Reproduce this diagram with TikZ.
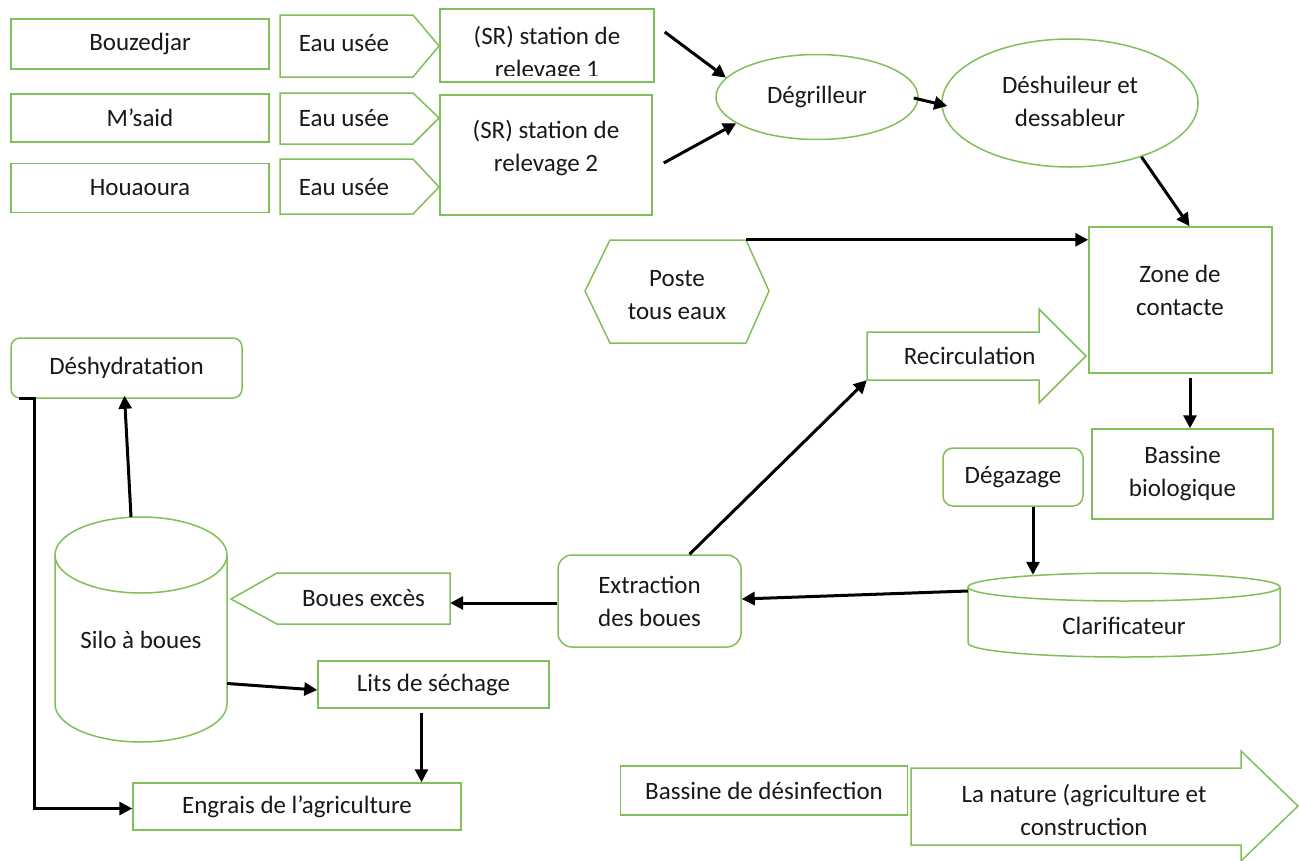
\documentclass[tikz,border=0pt]{standalone}
\usepackage{fontspec}
\setmainfont{Carlito}
\usetikzlibrary{arrows.meta,shapes.geometric}
\definecolor{boxgreen}{RGB}{128,192,88}
\definecolor{txt}{RGB}{25,25,25}
\begin{document}
\begin{tikzpicture}[x=1pt,y=-1pt,
  font=\fontsize{25}{33}\selectfont, text=txt,
  box/.style={draw=boxgreen, line width=1.5pt, rectangle, inner sep=0pt, align=center},
  rbox/.style={box, rounded corners=10pt},
  oval/.style={draw=boxgreen, line width=1.5pt, ellipse, inner sep=0pt, align=center},
  shp/.style={draw=boxgreen, line width=1.5pt, line join=miter},
  lbl/.style={inner sep=0pt, align=center},
  flow/.style={draw=black, line width=3pt, -{Triangle[length=13pt,width=13pt]}},
]
\useasboundingbox[fill=white] (0,0) rectangle (1299,860);

% ---- sources
\node[box, minimum width=258pt, minimum height=50pt] (bou) at (140,44) {Bouzedjar};
\node[box, minimum width=258pt, minimum height=48pt] (msa) at (140,118) {M’said};
\node[box, minimum width=258pt, minimum height=49pt] (hou) at (140,188) {Houaoura};

% ---- Eau usee pentagons
\draw[shp] (280,15) -- (413,15) -- (439,46) -- (413,77) -- (280,77) -- cycle;
\node[lbl] (eau1) at (344,43) {Eau usée};
\draw[shp] (280,93) -- (413,93) -- (439,118) -- (413,144) -- (280,144) -- cycle;
\node[lbl] (eau2) at (344,118) {Eau usée};
\draw[shp] (280,159) -- (413,159) -- (439,187) -- (413,214) -- (280,214) -- cycle;
\node[lbl] (eau3) at (344,187) {Eau usée};

% ---- stations de relevage
\node[box, minimum width=214pt, minimum height=73pt] (sr1) at (547,45.5) {};
\begin{scope}
  \clip (441,10) rectangle (653,75);
  \node[lbl] (sr1t) at (547,54.5) {(SR) station de\\relevage 1};
\end{scope}
\node[box, minimum width=212pt, minimum height=120pt] (sr2) at (546,155) {};
\node[lbl] (sr2t) at (546,148) {(SR) station de\\relevage 2};

% ---- pretreatment
\node[oval, minimum width=202pt, minimum height=85pt] (deg) at (817,97) {Dégrilleur};
\node[oval, minimum width=256pt, minimum height=128pt] (desh) at (1070,103) {};
\node[lbl] (desht) at (1070,101) {Déshuileur et\\dessableur};

% ---- Poste tous eaux
\draw[shp] (585,291) -- (610,240) -- (746,240) -- (769,291) -- (746,343) -- (610,343) -- cycle;
\node[lbl, minimum width=136pt, minimum height=103pt] (poste) at (678,291.5) {};
\node[lbl] (postet) at (677,295) {Poste\\tous eaux};

% ---- Zone de contacte
\node[box, minimum width=183pt, minimum height=146pt] (zone) at (1180.5,300) {};
\node[lbl] (zonet) at (1180,290) {Zone de\\contacte};

% ---- Recirculation arrow shape
\draw[shp] (867,332) -- (1039,332) -- (1039,309) -- (1086,356) -- (1039,403) -- (1039,380) -- (867,380) -- cycle;
\node[lbl, minimum width=172pt, minimum height=48pt, text width=165pt, align=right] (rec) at (953,356) {Recirculation};

% ---- biologic
\node[box, minimum width=181pt, minimum height=90pt] (bio) at (1182.5,474) {Bassine\\biologique};
\node[rbox, minimum width=140pt, minimum height=58pt] (dega) at (1013,477) {Dégazage};

% ---- Clarificateur cylinder
\draw[shp] (1124,587) ellipse [x radius=156pt, y radius=14pt];
\draw[shp] (968,587) -- (968,643) arc[start angle=180, end angle=360, x radius=156pt, y radius=14pt] -- (1280,587);
\node[lbl, minimum width=312pt, minimum height=84pt] (clar) at (1124,615) {};
\node[lbl] (clart) at (1124,626) {Clarificateur};

% ---- Extraction
\node[rbox, rounded corners=14pt, minimum width=183pt, minimum height=92pt] (ext) at (649.5,601) {Extraction\\des boues};

% ---- Boues exces
\draw[shp] (231,599) -- (277,573) -- (450,573) -- (450,624) -- (277,624) -- cycle;
\node[lbl, minimum width=173pt, minimum height=51pt] (boues) at (363.5,598.5) {Boues excès};

% ---- Silo cylinder
\draw[shp] (141,555) ellipse [x radius=86pt, y radius=38pt];
\draw[shp] (55,555) -- (55,704) arc[start angle=180, end angle=360, x radius=86pt, y radius=38pt] -- (227,555);
\node[lbl, minimum width=172pt, minimum height=225pt] (silo) at (141,629.5) {};
\node[lbl] (silot) at (141,640) {Silo à boues};

% ---- sludge line
\node[rbox, rounded corners=9pt, minimum width=231pt, minimum height=60pt] (dehy) at (126.5,368) {Déshydratation};
\node[box, minimum width=231pt, minimum height=47pt] (lits) at (433.5,684.5) {Lits de séchage};
\node[box, minimum width=328pt, minimum height=47pt] (engr) at (297,806.5) {Engrais de l’agriculture};

% ---- outlet
\node[box, minimum width=287pt, minimum height=49pt] (desinf) at (764,790.5) {Bassine de désinfection};
\draw[shp] (911,768) -- (1241,768) -- (1241,751) -- (1298,806) -- (1241,861) -- (1241,845) -- (911,845) -- cycle;
\node[lbl, minimum width=330pt, minimum height=77pt] (nature) at (1076,806.5) {};
\node[lbl] (naturet) at (1084,810) {La nature (agriculture et\\construction};

% ---- connectors
\draw[flow] ([xshift=10pt,yshift=13.5pt]sr1.east) -- (deg.168);
\draw[flow] ([xshift=11pt,yshift=-8pt]sr2.east) -- (deg.198);
\draw[flow] ([xshift=-5pt,yshift=-1pt]deg.east) -- ([xshift=6pt,yshift=-3pt]desh.west);
\draw[flow] (desh.-37) -- ([xshift=9pt]zone.north);
\draw[flow] (poste.north east) -- (poste.north east -| zone.west);
\draw[flow] ([xshift=9.5pt,yshift=-4pt]zone.south) -- ([xshift=7.5pt]bio.north);
\draw[flow] ([xshift=20pt]dega.south) -- ([xshift=20pt,yshift=-2pt]dega.south |- clar.north);
\draw[flow] ([yshift=24pt]clar.west) -- ([yshift=2pt]ext.east);
\draw[flow] ([xshift=40pt]ext.north) -- (rec.south west);
\draw[flow] ([yshift=-2pt]ext.west) -- ([yshift=-2pt]ext.west -| boues.east);
\draw[flow] ([xshift=-10pt]silo.north) -- ([xshift=-2pt,yshift=3pt]dehy.south);
\draw[flow] ([yshift=-54pt]silo.east) -- ([yshift=-5.5pt]lits.west);
\draw[flow] ([xshift=-12pt,yshift=-4pt]lits.south) -- ([xshift=-12pt]lits.south |- engr.north);
\draw[flow] ([xshift=9pt]dehy.south west) -- ([xshift=24pt]dehy.south west) |- ([yshift=-2pt]engr.west);
\end{tikzpicture}
\end{document}
